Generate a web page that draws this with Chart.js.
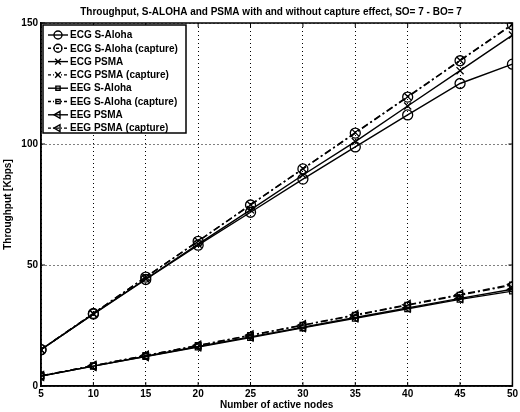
<!DOCTYPE html>
<html>
<head>
<meta charset="utf-8">
<script src="https://cdn.jsdelivr.net/npm/chart.js@4/dist/chart.umd.min.js"></script>
<style>
  html, body { margin: 0; padding: 0; background: #fff; }
  #wrap { width: 520px; height: 412px; }
</style>
</head>
<body>
<div id="wrap"><canvas id="chart" width="520" height="412"></canvas></div>
<script>
// Number of active nodes
const nodes = [5, 10, 15, 20, 25, 30, 35, 40, 45, 50];

// Throughput [Kbps]
const ecgAloha     = [15.0, 29.7, 44.0, 58.2, 71.8, 85.5, 98.8, 112.0, 125.0, 133.0];
const ecgAlohaCap  = [15.0, 30.0, 45.0, 59.8, 74.8, 89.7, 104.5, 119.4, 134.4, 149.3];
const ecgPsma      = [15.0, 29.8, 44.2, 58.6, 72.8, 87.2, 101.0, 115.7, 130.3, 145.0];
const ecgPsmaCap   = [15.0, 30.0, 45.0, 59.9, 74.9, 89.8, 104.7, 119.6, 134.6, 149.5];
const eegAloha     = [4.1, 8.2, 12.2, 16.1, 20.0, 24.0, 28.0, 31.9, 35.8, 39.2];
const eegAlohaCap  = [4.2, 8.4, 12.6, 16.7, 20.9, 25.1, 29.2, 33.4, 37.5, 41.7];
const eegPsma      = [4.1, 8.2, 12.3, 16.3, 20.3, 24.3, 28.3, 32.3, 36.2, 40.0];
const eegPsmaCap   = [4.2, 8.4, 12.6, 16.8, 21.0, 25.2, 29.4, 33.6, 37.8, 42.0];

const seriesNames = [
  'ECG S-Aloha', 'ECG S-Aloha (capture)', 'ECG PSMA', 'ECG PSMA (capture)',
  'EEG S-Aloha', 'EEG S-Aloha (capture)', 'EEG PSMA', 'EEG PSMA (capture)'
];
const seriesData = [ecgAloha, ecgAlohaCap, ecgPsma, ecgPsmaCap,
                    eegAloha, eegAlohaCap, eegPsma, eegPsmaCap];
const markers = ['circle', 'circle', 'crossRot', 'crossRot', 'rect', 'rect', 'triangle', 'triangle'];

const titleText = 'Throughput, S-ALOHA and PSMA with and without capture effect, SO= 7 - BO= 7';
const FONT = 'Liberation Sans, Arial, sans-serif';
const dashDot = [7, 3, 2, 3];

function markerSize(style) {
  if (style === 'rect') return 4;
  return 5;
}

const datasets = seriesNames.map((name, i) => ({
  label: name,
  data: nodes.map((n, j) => ({ x: n, y: seriesData[i][j] })),
  borderColor: '#000',
  borderWidth: 1.4,
  borderDash: i % 2 === 1 ? dashDot : [],
  pointStyle: markers[i],
  pointRotation: markers[i] === 'triangle' ? -90 : 0,
  pointRadius: markerSize(markers[i]),
  pointBorderWidth: 1.3,
  pointBorderColor: '#000',
  pointBackgroundColor: 'rgba(0,0,0,0)',
  fill: false,
  tension: 0
}));

// Plot frame, inward ticks, title and boxed legend
const framePlugin = {
  id: 'frame',
  afterDraw(chart) {
    const ctx = chart.ctx;
    const a = chart.chartArea;
    const xs = chart.scales.x, ys = chart.scales.y;
    ctx.save();
    ctx.strokeStyle = '#000';
    ctx.lineWidth = 1.5;
    ctx.strokeRect(a.left, a.top, a.right - a.left, a.bottom - a.top);
    ctx.lineWidth = 1;
    ctx.beginPath();
    xs.ticks.forEach(t => {
      const px = xs.getPixelForValue(t.value);
      ctx.moveTo(px, a.top); ctx.lineTo(px, a.top + 4);
      ctx.moveTo(px, a.bottom); ctx.lineTo(px, a.bottom - 4);
    });
    ys.ticks.forEach(t => {
      const py = ys.getPixelForValue(t.value);
      ctx.moveTo(a.left, py); ctx.lineTo(a.left + 4, py);
      ctx.moveTo(a.right, py); ctx.lineTo(a.right - 4, py);
    });
    ctx.stroke();

    // title
    ctx.fillStyle = '#000';
    ctx.font = 'bold 10px ' + FONT;
    ctx.textAlign = 'center';
    ctx.textBaseline = 'middle';
    ctx.fillText(titleText, 271, 12);

    // legend
    const bx = 43, by = 25, bw = 143, bh = 108, rowH = 13.3;
    ctx.fillStyle = '#fff';
    ctx.fillRect(bx, by, bw, bh);
    ctx.lineWidth = 1.5;
    ctx.strokeStyle = '#000';
    ctx.strokeRect(bx, by, bw, bh);
    chart.data.datasets.forEach((ds, i) => {
      const y = by + 10 + i * rowH;
      ctx.lineWidth = ds.borderWidth;
      ctx.setLineDash(ds.borderDash.length ? [3, 2, 1, 2] : []);
      ctx.beginPath();
      ctx.moveTo(bx + 5, y); ctx.lineTo(bx + 25, y);
      ctx.stroke();
      ctx.setLineDash([]);
      ctx.fillStyle = 'rgba(0,0,0,0)';
      Chart.helpers.drawPoint(ctx, {
        pointStyle: ds.pointStyle,
        rotation: ds.pointRotation,
        radius: ds.pointRadius - 1,
        borderWidth: ds.pointBorderWidth
      }, bx + 15, y);
      ctx.fillStyle = '#000';
      ctx.font = 'bold 10px ' + FONT;
      ctx.textAlign = 'left';
      ctx.textBaseline = 'middle';
      ctx.fillText(ds.label, bx + 27, y + 0.5);
    });
    ctx.restore();
  }
};

const ctx = document.getElementById('chart').getContext('2d');
new Chart(ctx, {
  type: 'line',
  data: { datasets: datasets },
  plugins: [framePlugin],
  options: {
    responsive: false,
    animation: false,
    layout: { padding: { top: 23, right: 3, left: 0, bottom: 0 } },
    plugins: {
      legend: { display: false },
      title: { display: false },
      tooltip: { enabled: false }
    },
    scales: {
      x: {
        type: 'linear',
        min: 5, max: 50,
        afterFit(scale) { scale.height = 26; },
        ticks: {
          stepSize: 5,
          color: '#000',
          padding: 2,
          maxRotation: 0,
          font: { family: FONT, size: 10, weight: 'bold' }
        },
        grid: {
          color: '#000',
          lineWidth: 1,
          drawTicks: false
        },
        border: { display: true, color: '#000', width: 1.5, dash: [1, 3] },
        title: {
          display: true,
          text: 'Number of active nodes',
          color: '#000',
          padding: { top: 0, bottom: 1 },
          font: { family: FONT, size: 10, weight: 'bold' }
        }
      },
      y: {
        min: 0, max: 150,
        afterFit(scale) { scale.width = 41; },
        ticks: {
          stepSize: 50,
          color: '#000',
          padding: 3,
          font: { family: FONT, size: 10, weight: 'bold' }
        },
        grid: {
          color: '#000',
          lineWidth: 1,
          drawTicks: false
        },
        border: { display: true, color: '#000', width: 1.5, dash: [1, 3] },
        title: {
          display: true,
          text: 'Throughput [Kbps]',
          color: '#000',
          padding: { top: 2, bottom: 0 },
          font: { family: FONT, size: 10, weight: 'bold' }
        }
      }
    }
  }
});
</script>
</body>
</html>
